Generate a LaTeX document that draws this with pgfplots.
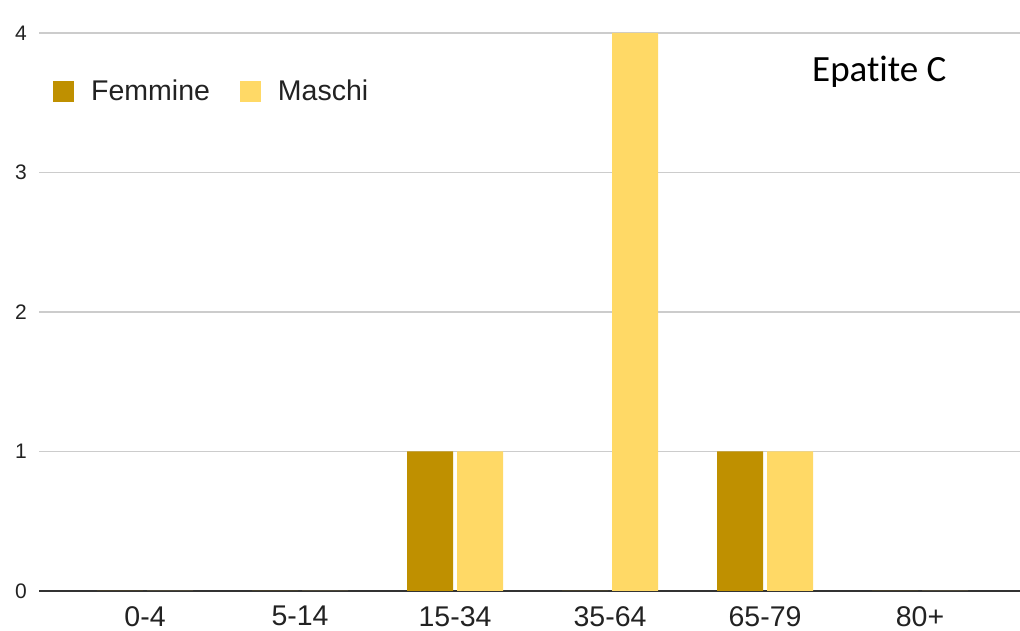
\documentclass[border=0pt]{standalone}
\usepackage{pgfplots}
\pgfplotsset{compat=1.18}
\usepackage{fontspec}
\setmainfont{Liberation Sans}
\newfontfamily\carlito[Ligatures=NoCommon]{Carlito}
\definecolor{fem}{HTML}{BF9000}
\definecolor{mas}{HTML}{FFD966}
\definecolor{gridc}{HTML}{CCCCCC}
\definecolor{axc}{HTML}{333333}
\definecolor{txt}{HTML}{222222}
\begin{document}
\begin{tikzpicture}[x=1pt,y=1pt]
\useasboundingbox (0,0) rectangle (1020,631);
\begin{axis}[
  at={(39pt,40pt)}, anchor=south west,
  scale only axis, width=981pt, height=558pt,
  xmin=-0.684, xmax=5.645, ymin=0, ymax=4,
  ybar=4pt, bar width=46pt,
  xtick={0,1,2,3,4,5},
  xticklabels={0-4,5-14,15-34,35-64,65-79,80+},
  ytick={0,1,2,3,4},
  /pgf/number format/assume math mode=true,
  major tick length=0pt,
  axis x line*=bottom, axis y line*=left,
  x axis line style={draw=axc, line width=2pt},
  y axis line style={draw=none},
  ymajorgrids, grid style={draw=gridc, line width=1.3pt},
  xticklabel style={font=\fontsize{28.5}{30}\selectfont, text=txt, anchor=north, inner sep=0pt, yshift=-15pt},
  yticklabel style={font=\fontsize{21}{22}\selectfont, text=txt, anchor=east, inner sep=0pt, xshift=-12pt},
  title={Epatite C},
  title style={at={(axis description cs:0.788,0.903)}, anchor=base west, inner sep=0pt, font=\carlito\fontsize{37}{38}\selectfont, text=black},
  legend columns=2,
  legend style={at={(axis description cs:0.01427,0.9158)}, anchor=north west, draw=none, fill=none, inner sep=0pt, font=\fontsize{28.5}{30}\selectfont, text=txt,
    nodes={inner sep=0pt},
    /tikz/every odd column/.append style={column sep=17pt},
    /tikz/every even column/.append style={column sep=30pt}},
  legend cell align=left,
  legend image code/.code={\fill[#1] (0pt,-10.5pt) rectangle (21pt,10.5pt);},
]
\addplot[fill=fem, draw=none] coordinates {(0,0) (1,0) (2,1) (3,0) (4,1) (5,0)};
\addplot[fill=mas, draw=none] coordinates {(0,0) (1,0) (2,1) (3,4) (4,1) (5,0)};
\legend{Femmine, Maschi}
\end{axis}
\end{tikzpicture}
\end{document}
